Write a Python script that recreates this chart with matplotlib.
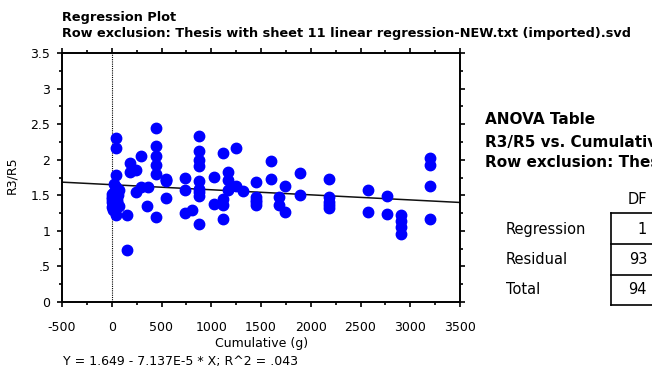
import matplotlib
matplotlib.use("Agg")
import matplotlib.pyplot as plt
from matplotlib.ticker import MultipleLocator
import numpy as np

plt.rcParams['font.family'] = ['DejaVu Sans']
plt.rcParams['axes.unicode_minus'] = False

# Data (Cumulative g, R3/R5)
cumulative = [
    40, 40, 40, 23, 73, 7, 57, 7, 73, 40, 157, 157, 180, 180, 240, 291, 240, 291, 364, 358,
    444, 444, 444, 444, 444, 444, 542, 542, 542, 735, 735, 735, 809,
    876, 876, 876, 876, 876, 876, 876, 876,
    1026, 1026, 1120, 1167, 1167, 1167, 1120, 1120, 1120, 1251, 1251, 1317,
    1454, 1454, 1454, 1454, 1600, 1600,
    1678, 1678, 1745, 1745, 1895, 1895, 2187, 2187, 2187, 2187,
    2575, 2575, 2771, 2771, 2909, 2909, 2909, 2909, 3200, 3200, 3200, 3200,
    0, 0, 10, 20, 30, 50, 60, 20, 40, 0, 876, 1454, 2187, 545,
]
ratio = [
    2.30, 2.16, 1.78, 1.66, 1.58, 1.48, 1.43, 1.34, 1.35, 1.22, 1.22, 0.73, 1.95, 1.83, 1.85, 2.05, 1.55, 1.61, 1.61, 1.35,
    2.44, 2.19, 2.05, 1.92, 1.80, 1.19, 1.73, 1.70, 1.46, 1.75, 1.57, 1.25, 1.30,
    2.33, 2.12, 2.00, 1.91, 1.70, 1.59, 1.49, 1.09,
    1.76, 1.38, 2.10, 1.83, 1.71, 1.57, 1.45, 1.36, 1.16, 2.16, 1.63, 1.56,
    1.68, 1.48, 1.43, 1.36, 1.98, 1.73,
    1.48, 1.37, 1.63, 1.26, 1.81, 1.51, 1.73, 1.48, 1.41, 1.32,
    1.57, 1.26, 1.49, 1.24, 1.22, 1.14, 1.06, 0.96, 2.02, 1.93, 1.63, 1.16,
    1.45, 1.40, 1.30, 1.55, 1.28, 1.40, 1.50, 1.38, 1.62, 1.52, 1.55, 1.40, 1.36, 1.72,
]
intercept = 1.649
slope = -7.137e-5
x_ticks = [-500, 0, 500, 1000, 1500, 2000, 2500, 3000, 3500]
y_ticks = [0, 0.5, 1, 1.5, 2, 2.5, 3, 3.5]
y_tick_labels = ['0', '.5', '1', '1.5', '2', '2.5', '3', '3.5']
anova_rows = ['Regression', 'Residual', 'Total']
anova_df = ['1', '93', '94']

W, H = 652, 368
fig = plt.figure(figsize=(6.52, 3.68), dpi=100)
ax = fig.add_axes([62/W, 1-302/H, (460-62)/W, (302-53)/H])

ax.axvline(0, color='black', lw=0.8, ls=(0, (1, 1)), zorder=1)
xl = np.array([-500, 3500])
ax.plot(xl, intercept + slope*xl, color='#111111', lw=1.1, zorder=2)
ax.plot(cumulative, ratio, 'o', color='#0000ff', ms=7.5, mec='#0000ff', zorder=3)

ax.set_xlim(-500, 3500)
ax.set_ylim(0, 3.5)
ax.set_xticks(x_ticks)
ax.set_yticks(y_ticks)
ax.set_yticklabels(y_tick_labels)
ax.xaxis.set_minor_locator(MultipleLocator(250))
ax.yaxis.set_minor_locator(MultipleLocator(0.25))
ax.tick_params(which='both', top=True, right=True, direction='out', labelsize=9, width=1.2)
ax.tick_params(which='major', length=3.5)
ax.tick_params(which='minor', length=2)
ax.tick_params(axis='x', which='major', pad=10)
ax.tick_params(axis='y', which='major', pad=5)
for s in ax.spines.values():
    s.set_linewidth(1.4)

ax.set_xlabel('Cumulative (g)', fontsize=9)
ax.set_ylabel('R3/R5', fontsize=9)
ax.xaxis.set_label_coords((262-62)/398, (302-343)/249)
ax.yaxis.set_label_coords((12-62)/398, (302-175)/249)
ax.xaxis.label.set_va('center')
ax.yaxis.label.set_va('center')

fig.text(62/W, 1-17/H, 'Regression Plot', fontsize=9.3, fontweight='bold', va='center', ha='left')
fig.text(62/W, 1-34/H, 'Row exclusion: Thesis with sheet 11 linear regression-NEW.txt (imported).svd',
         fontsize=9.3, fontweight='bold', va='center', ha='left')
fig.text(63/W, 1-361/H, 'Y = 1.649 - 7.137E-5 * X; R^2 = .043', fontsize=9, va='center', ha='left')

fig.text(485/W, 1-120/H, 'ANOVA Table', fontsize=11, fontweight='bold', va='center', ha='left')
fig.text(485/W, 1-142/H, 'R3/R5 vs. Cumulative (g)', fontsize=11, fontweight='bold', va='center', ha='left')
fig.text(485/W, 1-163/H, 'Row exclusion: Thesis with sheet 11 linear regression-NEW.txt (imported).svd',
         fontsize=11, fontweight='bold', va='center', ha='left')

fig.text(637/W, 1-200/H, 'DF', fontsize=10.5, va='center', ha='center')
row_y = [229, 259, 289]
for lab, val, yy in zip(anova_rows, anova_df, row_y):
    fig.text(506/W, 1-yy/H, lab, fontsize=10.5, va='center', ha='left')
    fig.text(647/W, 1-yy/H, val, fontsize=10.5, va='center', ha='right')

# table box lines
lines_y = [213, 244, 275, 305]
for yy in lines_y:
    fig.add_artist(plt.Line2D([611/W, 1.0], [1-yy/H, 1-yy/H], color='black', lw=1.2, transform=fig.transFigure))
fig.add_artist(plt.Line2D([611/W, 611/W], [1-213/H, 1-305/H], color='black', lw=1.2, transform=fig.transFigure))

fig.savefig('out.png', dpi=100)
